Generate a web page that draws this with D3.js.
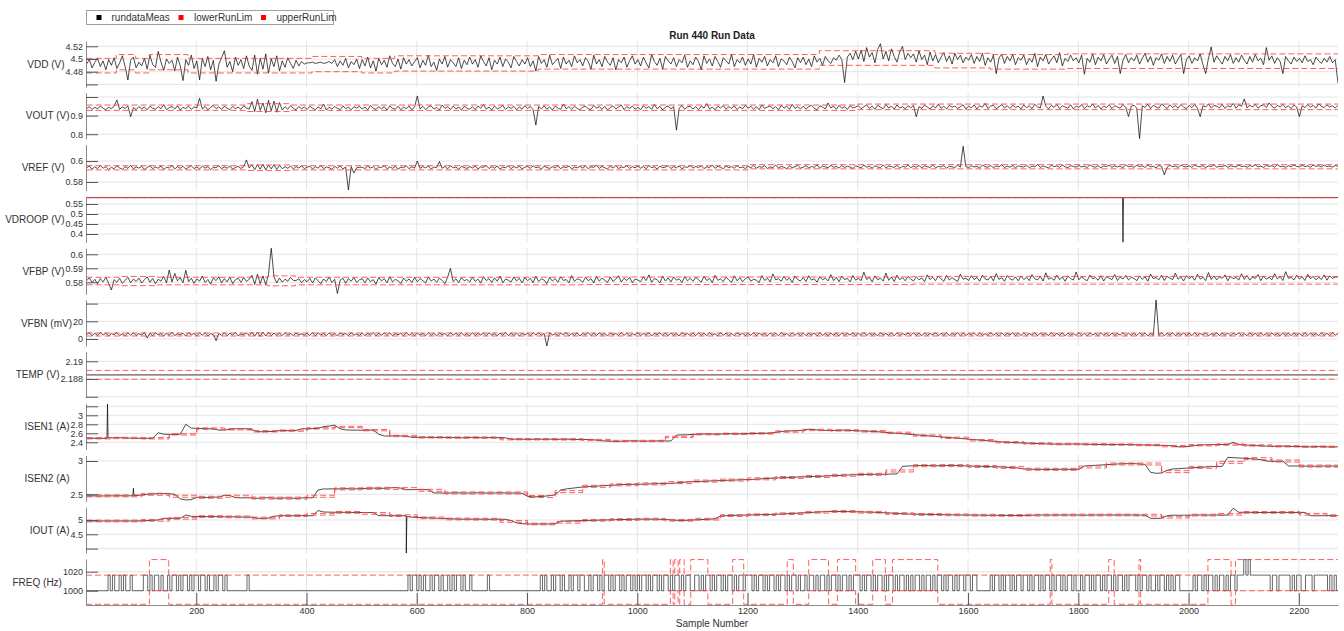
<!DOCTYPE html>
<html>
<head>
<meta charset="utf-8">
<script src="https://cdn.jsdelivr.net/npm/d3@7"></script>
<style>
  body { margin: 0; background: #fff; }
  svg { font-family: 'Liberation Sans', Arial, sans-serif; }
</style>
</head>
<body>
<div id="chart"></div>
<script>
const WIDTH = 1344
const HEIGHT = 631
const LEFT = 86
const RIGHT = 1338
const TOP = 41
const PITCH = 51.8
const PANEL_H = 46
const X_MAX = 2271
const GRID = '#e4e4e4'
const RED = '#ff3636'

const xTicks = [200, 400, 600, 800, 1000, 1200, 1400, 1600, 1800, 2000, 2200]
const noisySamples = d3.range(1, 2272, 5)   // noisy channels, every 5th sample
const smoothSamples = d3.range(1, 2272, 10) // current channels, every 10th sample
const limSamples = d3.range(1, 2272, 50)
const freqSamples = d3.range(0, 2271, 4)

// ---- VDD (V)
const vddMeas = [
  4.492,4.499,4.486,4.495,4.501,4.488,4.497,4.483,4.499,4.490,
  4.502,4.485,4.494,4.505,4.488,4.467,4.498,4.503,4.486,4.495,
  4.489,4.501,4.484,4.506,4.491,4.487,4.512,4.495,4.482,4.500,
  4.493,4.498,4.481,4.503,4.489,4.466,4.499,4.490,4.506,4.485,
  4.497,4.467,4.501,4.488,4.504,4.483,4.498,4.465,4.492,4.502,
  4.513,4.487,4.496,4.480,4.503,4.490,4.499,4.485,4.505,4.489,
  4.482,4.506,4.476,4.501,4.484,4.508,4.478,4.500,4.488,4.505,
  4.481,4.497,4.487,4.502,4.493,4.485,4.498,4.489,4.496,4.492,
  4.494,4.494,4.495,4.493,4.494,4.495,4.493,4.494,4.496,4.493,
  4.499,4.488,4.497,4.490,4.501,4.486,4.496,4.491,4.500,4.485,
  4.499,4.489,4.503,4.486,4.497,4.481,4.501,4.491,4.498,4.487,
  4.505,4.493,4.488,4.500,4.484,4.502,4.492,4.499,4.489,4.496,
  4.502,4.486,4.498,4.490,4.506,4.488,4.495,4.482,4.500,4.492,
  4.504,4.487,4.499,4.494,4.488,4.502,4.485,4.498,4.491,4.503,
  4.492,4.499,4.487,4.505,4.496,4.489,4.502,4.483,4.498,4.492,
  4.503,4.488,4.500,4.495,4.486,4.504,4.496,4.489,4.499,4.492,
  4.502,4.488,4.497,4.481,4.504,4.493,4.499,4.487,4.506,4.491,
  4.496,4.501,4.485,4.503,4.492,4.498,4.488,4.505,4.494,4.499,
  4.489,4.502,4.496,4.484,4.506,4.492,4.499,4.488,4.504,4.495,
  4.490,4.502,4.483,4.499,4.494,4.503,4.487,4.497,4.505,4.492,
  4.499,4.489,4.503,4.494,4.486,4.507,4.496,4.490,4.501,4.484,
  4.504,4.497,4.492,4.502,4.488,4.499,4.494,4.506,4.487,4.497,
  4.491,4.503,4.496,4.483,4.505,4.493,4.500,4.489,4.504,4.496,
  4.487,4.502,4.497,4.492,4.507,4.488,4.499,4.494,4.503,4.490,
  4.500,4.492,4.507,4.487,4.501,4.495,4.504,4.489,4.499,4.494,
  4.505,4.488,4.500,4.497,4.491,4.503,4.496,4.486,4.502,4.494,
  4.503,4.491,4.500,4.488,4.505,4.495,4.501,4.490,4.504,4.497,
  4.493,4.502,4.498,4.506,4.499,4.463,4.503,4.509,4.499,4.512,
  4.500,4.514,4.496,4.518,4.503,4.510,4.494,4.515,4.524,4.500,
  4.512,4.497,4.516,4.504,4.495,4.511,4.520,4.499,4.509,4.502,
  4.508,4.495,4.513,4.499,4.506,4.491,4.511,4.497,4.507,4.494,
  4.503,4.510,4.496,4.505,4.492,4.509,4.499,4.506,4.494,4.503,
  4.498,4.507,4.493,4.504,4.496,4.509,4.490,4.502,4.495,4.506,
  4.477,4.501,4.508,4.493,4.504,4.497,4.507,4.491,4.502,4.498,
  4.506,4.491,4.501,4.495,4.509,4.488,4.503,4.497,4.507,4.492,
  4.499,4.505,4.494,4.510,4.489,4.501,4.496,4.506,4.497,4.502,
  4.494,4.506,4.476,4.501,4.495,4.508,4.491,4.503,4.497,4.507,
  4.492,4.500,4.506,4.493,4.504,4.477,4.498,4.507,4.494,4.502,
  4.497,4.506,4.492,4.501,4.509,4.495,4.504,4.490,4.502,4.498,
  4.508,4.493,4.504,4.496,4.506,4.492,4.500,4.507,4.477,4.499,
  4.505,4.493,4.502,4.497,4.508,4.491,4.477,4.501,4.519,4.495,
  4.505,4.498,4.492,4.504,4.497,4.507,4.493,4.502,4.495,4.506,
  4.498,4.492,4.504,4.495,4.507,4.497,4.501,4.491,4.518,4.498,
  4.505,4.493,4.502,4.496,4.477,4.504,4.497,4.492,4.503,4.496,
  4.501,4.494,4.505,4.496,4.499,4.491,4.503,4.497,4.493,4.501,
  4.495,4.504,4.494,4.499,4.462
]
const vddLimX = [1, 55, 90, 115, 185, 410, 500, 560, 820, 1330, 1540, 1640, 1780]
const vddLo = [4.478, 4.483, 4.478, 4.483, 4.478, 4.480, 4.478, 4.481, 4.484, 4.490, 4.486, 4.484, 4.485]
const vddHi = [4.501, 4.507, 4.501, 4.507, 4.501, 4.504, 4.501, 4.505, 4.507, 4.513, 4.509, 4.507, 4.508]

// ---- VOUT (V)
const voutMeas = [
  0.938,0.948,0.933,0.945,0.936,0.951,0.940,0.931,0.946,0.937,
  0.950,0.984,0.934,0.947,0.938,0.952,0.894,0.943,0.932,0.949,
  0.936,0.946,0.931,0.950,0.940,0.934,0.948,0.937,0.958,0.932,
  0.943,0.949,0.935,0.953,0.930,0.945,0.938,0.951,0.934,0.947,
  0.941,0.993,0.935,0.949,0.931,0.944,0.954,0.937,0.948,0.933,
  0.951,0.940,0.932,0.949,0.937,0.946,0.934,0.953,0.941,0.935,
  0.975,0.922,0.988,0.928,0.968,0.915,0.982,0.926,0.978,0.918,
  0.970,0.930,0.948,0.934,0.953,0.940,0.931,0.949,0.937,0.946,
  0.933,0.950,0.940,0.931,0.947,0.936,0.962,0.930,0.945,0.935,
  0.949,0.939,0.932,0.953,0.937,0.946,0.931,0.948,0.940,0.951,
  0.935,0.946,0.931,0.954,0.940,0.933,0.949,0.936,0.948,0.929,
  0.952,0.939,0.934,0.950,0.932,0.946,0.937,0.951,0.931,0.947,
  1.005,0.936,0.950,0.933,0.946,0.953,0.935,0.944,0.930,0.957,
  0.939,0.948,0.933,0.951,0.936,0.946,0.929,0.950,0.940,0.934,
  0.948,0.932,0.952,0.939,0.960,0.935,0.946,0.931,0.951,0.937,
  0.943,0.955,0.933,0.948,0.938,0.950,0.931,0.947,0.935,0.953,
  0.939,0.949,0.932,0.849,0.950,0.936,0.953,0.934,0.947,0.930,
  0.951,0.940,0.933,0.962,0.937,0.948,0.934,0.950,0.939,0.931,
  0.946,0.951,0.936,0.933,0.955,0.940,0.948,0.934,0.950,0.930,
  0.943,0.953,0.936,0.946,0.957,0.932,0.948,0.939,0.951,0.935,
  0.944,0.932,0.953,0.939,0.948,0.934,0.960,0.937,0.950,0.930,
  0.945,0.952,0.936,0.948,0.822,0.940,0.954,0.934,0.947,0.950,
  0.936,0.948,0.932,0.951,0.940,0.965,0.935,0.946,0.931,0.950,
  0.941,0.954,0.934,0.948,0.939,0.952,0.933,0.947,0.937,0.955,
  0.940,0.950,0.934,0.948,0.932,0.957,0.939,0.946,0.952,0.936,
  0.949,0.931,0.955,0.940,0.951,0.934,0.960,0.939,0.948,0.936,
  0.951,0.935,0.948,0.956,0.939,0.932,0.952,0.946,0.936,0.968,
  0.941,0.951,0.934,0.955,0.939,0.948,0.933,0.953,0.941,0.946,
  0.953,0.937,0.948,0.958,0.939,0.951,0.934,0.955,0.946,0.937,
  0.960,0.941,0.951,0.935,0.957,0.940,0.948,0.937,0.953,0.942,
  0.955,0.894,0.948,0.939,0.957,0.946,0.935,0.953,0.941,0.962,
  0.939,0.951,0.936,0.955,0.945,0.952,0.938,0.948,0.958,0.936,
  0.951,0.942,0.957,0.936,0.953,0.945,0.966,0.938,0.951,0.955,
  0.937,0.948,0.959,0.941,0.953,0.938,0.956,0.944,0.951,0.936,
  0.957,0.943,0.952,0.938,0.961,0.947,0.941,1.005,0.951,0.937,
  0.955,0.944,0.960,0.938,0.953,0.946,0.940,0.958,0.936,0.951,
  0.944,0.959,0.938,0.953,0.946,0.963,0.940,0.955,0.936,0.951,
  0.944,0.958,0.938,0.953,0.946,0.940,0.960,0.944,0.895,0.951,
  0.955,0.940,0.775,0.953,0.944,0.961,0.938,0.955,0.946,0.940,
  0.964,0.950,0.938,0.958,0.944,0.953,0.940,0.960,0.946,0.937,
  0.955,0.943,0.960,0.940,0.894,0.953,0.946,0.963,0.940,0.955,
  0.950,0.942,0.961,0.938,0.953,0.946,0.966,0.940,0.958,0.950,
  0.990,0.942,0.955,0.946,0.961,0.940,0.953,0.958,0.943,0.968,
  0.950,0.940,0.955,0.946,0.960,0.942,0.953,0.938,0.958,0.946,
  0.894,0.953,0.943,0.960,0.946,0.955,0.940,0.963,0.950,0.943,
  0.958,0.946,0.953,0.940,0.956
]
const voutLimX = [1, 290, 370, 1400]
const voutLo = [0.928, 0.922, 0.928, 0.932]
const voutHi = [0.957, 0.964, 0.957, 0.962]

// ---- VREF (V)
const vrefMeas = [
  .5935,.5951,.5922,.5944,.5928,.5956,.5931,.5947,.5918,.5940,
  .5926,.5953,.5934,.5921,.5946,.5930,.5958,.5925,.5943,.5932,
  .5949,.5920,.5938,.5955,.5927,.5944,.5931,.5952,.5919,.5941,
  .5933,.5957,.5924,.5946,.5930,.5950,.5922,.5939,.5954,.5928,
  .5943,.5925,.5950,.5932,.5947,.5918,.5941,.5936,.5955,.5926,
  .5944,.5931,.5952,.5923,.5939,.5948,.5929,.5945,.6010,.5934,
  .5962,.5918,.5965,.5922,.5968,.5915,.5960,.5925,.5966,.5920,
  .5958,.5927,.5945,.5930,.5952,.5924,.5947,.5933,.5955,.5926,
  .5941,.5950,.5923,.5946,.5932,.5957,.5927,.5944,.5936,.5920,
  .5949,.5931,.5953,.5925,.5942,.5724,.5947,.5886,.5936,.5940,
  .5940,.5928,.5951,.5933,.5946,.5921,.5943,.5937,.5955,.5926,
  .5944,.5930,.5949,.5922,.5941,.5935,.5953,.5927,.5945,.5932,
  .6000,.5929,.5947,.5934,.5952,.5924,.5942,.5937,.5995,.5931,
  .5948,.5926,.5954,.5935,.5943,.5921,.5950,.5938,.5929,.5946,
  .5933,.5951,.5925,.5944,.5939,.5958,.5928,.5946,.5931,.5953,
  .5923,.5942,.5936,.5955,.5927,.5947,.5934,.5950,.5924,.5941,
  .5948,.5930,.5954,.5936,.5943,.5922,.5951,.5938,.5929,.5946,
  .5933,.5957,.5926,.5944,.5937,.5952,.5925,.5942,.5935,.5949,
  .5931,.5953,.5927,.5945,.5939,.5960,.5929,.5948,.5936,.5924,
  .5950,.5933,.5955,.5928,.5943,.5938,.5956,.5930,.5946,.5935,
  .5952,.5931,.5947,.5926,.5958,.5937,.5944,.5923,.5950,.5936,
  .5942,.5955,.5929,.5947,.5934,.5953,.5925,.5945,.5939,.5957,
  .5932,.5948,.5938,.5954,.5927,.5945,.5936,.5961,.5930,.5949,
  .5940,.5926,.5952,.5937,.5946,.5931,.5956,.5935,.5943,.5928,
  .5950,.5936,.5959,.5931,.5947,.5939,.5955,.5928,.5944,.5937,
  .5962,.5933,.5948,.5940,.5927,.5953,.5936,.5945,.5958,.5932,
  .5941,.5955,.5934,.5948,.5939,.5963,.5930,.5951,.5944,.5936,
  .5958,.5940,.5947,.5933,.5956,.5938,.5950,.5942,.5929,.5954,
  .5945,.5936,.5960,.5941,.5949,.5932,.5955,.5943,.5938,.5963,
  .5935,.5951,.5946,.5939,.5957,.5933,.5948,.5942,.5961,.5937,
  .5950,.5940,.5958,.5934,.5953,.5945,.5939,.5962,.5936,.5948,
  .5943,.5956,.5931,.5951,.5944,.5938,.5960,.5942,.6140,.5946,
  .5937,.5955,.5943,.5949,.5933,.5961,.5945,.5940,.5957,.5936,
  .5952,.5944,.5964,.5938,.5950,.5941,.5956,.5935,.5953,.5946,
  .5942,.5959,.5937,.5951,.5945,.5966,.5939,.5953,.5943,.5935,
  .5958,.5947,.5952,.5940,.5961,.5944,.5937,.5955,.5948,.5941,
  .5957,.5943,.5950,.5938,.5963,.5946,.5941,.5955,.5936,.5952,
  .5947,.5960,.5939,.5954,.5944,.5950,.5937,.5962,.5945,.5951,
  .5940,.5958,.5946,.5953,.5938,.5961,.5944,.5950,.5935,.5956,
  .5948,.5867,.5941,.5959,.5945,.5952,.5938,.5963,.5947,.5943,
  .5955,.5939,.5962,.5948,.5944,.5957,.5936,.5953,.5946,.5965,
  .5941,.5950,.5945,.5958,.5939,.5954,.5948,.5943,.5961,.5946,
  .5952,.5940,.5957,.5947,.5963,.5943,.5951,.5938,.5959,.5948,
  .5955,.5942,.5966,.5946,.5950,.5940,.5956,.5945,.5961,.5949,
  .5944,.5958,.5947,.5953,.5940,.5962,.5949,.5955,.5943,.5960,
  .5946,.5952,.5941,.5957,.5948
]
const vrefLimX = [1, 290, 370, 1200]
const vrefLo = [0.5915, 0.5910, 0.5915, 0.5925]
const vrefHi = [0.5955, 0.5962, 0.5955, 0.5965]

// ---- VDROOP (V)
const vdroopSamples = [1, 600, 1200, 1880, 1881, 1882, 2271]
const vdroopMeas = [0.5821, 0.5820, 0.5821, 0.5821, 0.3580, 0.5821, 0.5821]
const vdroopLimX = [1]
const vdroopLo = [0.5812]
const vdroopHi = [0.5830]

// ---- VFBP (V)
const vfbpMeas = [
  .5811,.5832,.5798,.5821,.5790,.5826,.5803,.5835,.5794,.5745,
  .5819,.5800,.5828,.5792,.5815,.5836,.5797,.5823,.5806,.5830,
  .5795,.5818,.5839,.5801,.5827,.5789,.5822,.5808,.5842,.5796,
  .5888,.5803,.5864,.5810,.5833,.5797,.5886,.5805,.5829,.5793,
  .5824,.5808,.5845,.5799,.5820,.5787,.5831,.5812,.5840,.5795,
  .5826,.5803,.5837,.5791,.5818,.5829,.5800,.5834,.5806,.5822,
  .5850,.5785,.5858,.5790,.5846,.5782,.5855,.6045,.5838,.5795,
  .5830,.5801,.5822,.5808,.5835,.5814,.5812,.5826,.5797,.5819,
  .5803,.5828,.5795,.5832,.5810,.5790,.5824,.5806,.5837,.5798,
  .5821,.5720,.5814,.5829,.5793,.5826,.5808,.5833,.5799,.5818,
  .5825,.5796,.5831,.5805,.5819,.5788,.5834,.5810,.5826,.5797,
  .5839,.5803,.5822,.5811,.5791,.5830,.5807,.5824,.5799,.5835,
  .5804,.5827,.5812,.5795,.5838,.5809,.5823,.5800,.5829,.5814,
  .5791,.5836,.5900,.5806,.5825,.5798,.5832,.5811,.5820,.5802,
  .5836,.5807,.5822,.5794,.5840,.5812,.5826,.5799,.5831,.5808,
  .5845,.5797,.5823,.5815,.5802,.5838,.5810,.5828,.5796,.5833,
  .5812,.5829,.5798,.5843,.5805,.5824,.5816,.5791,.5835,.5809,
  .5827,.5801,.5840,.5813,.5820,.5796,.5848,.5807,.5825,.5818,
  .5800,.5836,.5811,.5826,.5795,.5842,.5808,.5830,.5815,.5799,
  .5838,.5806,.5823,.5847,.5802,.5829,.5813,.5835,.5797,.5824,
  .5816,.5805,.5839,.5812,.5853,.5800,.5827,.5818,.5796,.5844,
  .5809,.5831,.5803,.5838,.5815,.5825,.5798,.5841,.5810,.5829,
  .5807,.5835,.5819,.5801,.5843,.5812,.5828,.5797,.5850,.5814,
  .5824,.5805,.5837,.5816,.5800,.5846,.5811,.5832,.5804,.5826,
  .5839,.5808,.5822,.5815,.5798,.5848,.5813,.5829,.5803,.5860,
  .5817,.5826,.5808,.5842,.5814,.5831,.5799,.5845,.5819,.5810,
  .5833,.5806,.5847,.5816,.5825,.5801,.5840,.5818,.5829,.5810,
  .5855,.5812,.5836,.5805,.5844,.5820,.5827,.5803,.5849,.5815,
  .5828,.5812,.5872,.5820,.5835,.5804,.5846,.5817,.5830,.5809,
  .5866,.5814,.5838,.5806,.5851,.5819,.5833,.5811,.5842,.5823,
  .5810,.5840,.5818,.5831,.5805,.5853,.5820,.5836,.5812,.5845,
  .5824,.5808,.5849,.5816,.5834,.5819,.5806,.5858,.5822,.5829,
  .5813,.5847,.5819,.5835,.5808,.5851,.5824,.5816,.5842,.5810,
  .5862,.5821,.5833,.5807,.5848,.5826,.5815,.5839,.5811,.5844,
  .5820,.5836,.5812,.5855,.5825,.5817,.5843,.5809,.5868,.5822,
  .5834,.5814,.5850,.5819,.5838,.5808,.5845,.5827,.5816,.5874,
  .5818,.5840,.5823,.5811,.5852,.5826,.5833,.5815,.5847,.5809,
  .5841,.5829,.5820,.5856,.5813,.5837,.5824,.5849,.5817,.5835,
  .5828,.5812,.5846,.5821,.5839,.5808,.5859,.5825,.5834,.5817,
  .5851,.5813,.5843,.5830,.5819,.5866,.5822,.5838,.5810,.5848,
  .5826,.5841,.5815,.5857,.5823,.5836,.5812,.5870,.5820,.5845,
  .5817,.5839,.5828,.5853,.5811,.5842,.5826,.5834,.5816,.5861,
  .5821,.5848,.5815,.5838,.5827,.5855,.5812,.5844,.5822,.5836,
  .5818,.5862,.5825,.5840,.5813,.5876,.5829,.5834,.5817,.5850,
  .5824,.5839,.5813,.5857,.5826,.5842,.5818,.5835,.5821,.5853,
  .5815,.5846,.5828,.5837,.5838
]
const vfbpLimX = [1, 60, 130, 330, 380, 900, 1500]
const vfbpLo = [0.5782, 0.5776, 0.5782, 0.5775, 0.5782, 0.5784, 0.5787]
const vfbpHi = [0.5836, 0.5842, 0.5836, 0.5846, 0.5836, 0.5838, 0.5842]

// ---- VFBN (mV)
const vfbnMeas = [
  5.2,7.1,3.8,6.4,4.1,7.5,4.6,6.8,3.5,6.2, 4.9,7.3,4.0,5.8,3.7,6.9,4.4,7.0,3.9,6.1,
  4.5,7.4,1.1,6.6,3.6,7.2,4.8,6.0,3.4,6.7, 4.2,7.6,3.9,5.9,4.6,6.5,3.3,7.1,4.7,6.3,
  3.8,6.9,4.3,7.3,3.5,6.1,4.9,-1.9,6.4,4.0, 7.0,3.7,6.6,4.5,7.2,3.6,5.8,4.8,6.9,4.1,
  7.6,3.2,7.9,3.0,7.7,3.4,7.3,3.6,6.8,4.2, 6.5,3.8,7.1,4.4,6.2,3.9,6.7,4.6,5.9,4.3,
  6.6,4.0,7.2,3.7,6.9,4.5,6.3,3.9,7.0,4.2, 6.1,3.6,6.8,4.7,6.4,3.8,7.1,4.4,5.9,4.1,
  6.7,3.9,6.2,4.6,7.3,3.5,6.5,4.3,6.9,4.0, 7.1,3.7,6.0,4.8,6.6,3.6,7.2,4.2,6.3,3.9,
  6.8,4.5,6.1,3.8,7.0,4.1,6.4,3.7,6.7,4.9, 6.2,3.5,7.1,4.4,6.5,3.9,6.9,4.2,6.0,3.6,
  7.2,4.0,6.3,4.6,6.8,3.8,7.0,4.3,6.1,3.7, 6.6,4.5,7.3,3.9,6.4,4.1,6.9,3.5,6.2,4.7,
  6.5,3.8,7.1,4.6,6.8,4.2,6.3,-7.9,7.0,4.4, 6.0,3.9,6.7,4.8,7.2,3.7,6.4,4.1,6.9,3.5,
  6.2,4.6,7.3,3.8,6.5,4.0,7.0,4.3,6.1,3.6, 6.8,4.7,6.3,3.9,7.1,4.2,6.6,3.7,6.0,4.5,
  7.2,3.9,6.4,4.4,6.9,3.6,6.2,4.8,7.0,4.1, 6.5,3.8,6.8,4.3,6.1,3.5,7.3,4.6,6.3,4.0,
  6.7,3.7,7.1,4.2,6.4,3.9,6.9,4.5,6.0,3.6, 7.2,4.3,6.6,4.0,6.2,3.8,7.0,4.7,6.5,3.9,
  6.3,4.1,7.3,3.8,6.7,4.4,6.1,3.6,6.9,4.2, 6.4,3.9,7.1,4.6,6.0,3.7,6.8,4.3,6.5,4.0,
  7.0,3.8,6.3,4.5,6.8,3.6,7.2,4.1,6.1,3.9, 6.7,4.4,6.4,3.7,7.1,4.2,6.2,4.6,6.9,3.8,
  6.5,4.0,7.3,3.9,6.6,4.3,6.0,3.7,7.0,4.5, 6.3,4.1,6.8,3.6,7.2,4.2,6.1,4.7,6.7,3.9,
  7.1,4.2,6.4,3.8,6.9,4.0,6.2,4.6,7.0,3.7, 6.5,4.3,6.8,3.9,6.1,4.4,7.3,3.6,6.6,4.1,
  6.3,4.5,7.0,3.8,6.7,4.2,6.0,3.9,7.2,4.4, 6.4,3.7,6.9,4.1,6.2,4.6,7.1,3.8,6.5,4.0,
  6.8,3.9,6.3,4.3,7.0,3.7,6.6,4.5,6.1,4.0, 7.2,3.8,6.4,4.2,6.9,3.6,6.7,4.4,6.0,4.1,
  7.1,4.0,6.5,3.8,6.8,4.6,6.2,3.9,7.0,4.3, 6.4,3.7,6.9,4.1,6.1,4.5,7.2,3.8,6.6,4.2,
  6.3,3.9,7.0,4.4,6.7,3.6,6.1,4.2,44.0,4.0, 6.8,3.8,6.4,4.5,7.1,3.7,6.2,4.3,6.9,4.0,
  6.6,3.8,7.2,4.1,6.3,4.5,6.9,3.7,6.0,4.3, 7.0,3.9,6.5,4.2,6.8,3.6,6.4,4.6,7.1,4.0,
  6.2,3.8,6.9,4.4,6.6,3.7,7.2,4.1,6.3,3.9, 6.8,4.5,6.1,3.6,7.0,4.2,6.5,3.9,6.7,4.3,
  6.4,3.7,7.1,4.0,6.6,4.4,6.2,3.8,6.9,4.1, 6.5,3.9,7.0,4.3,6.3
]
const vfbnLimX = [1]
const vfbnLo = [3.4]
const vfbnHi = [6.8]

// ---- TEMP (V)
const tempSamples = [1, 2271]
const tempMeas = [2.18847, 2.18847]
const tempLimX = [1]
const tempLo = [2.18797]
const tempHi = [2.18897]

// ---- ISEN1 (A)
const isen1Meas = [
  2.489,2.489,2.490,2.489,2.500,2.500,2.502,2.498,2.492,2.490,
  2.488,2.489,2.491,2.610,2.580,2.576,2.575,2.578,2.800,2.715,
  2.710,2.705,2.700,2.700,2.670,2.672,2.690,2.700,2.702,2.700,
  2.680,2.636,2.635,2.640,2.640,2.660,2.660,2.655,2.665,2.700,
  2.700,2.705,2.710,2.750,2.760,2.780,2.700,2.675,2.670,2.670,
  2.668,2.670,2.672,2.580,2.540,2.540,2.545,2.540,2.535,2.510,
  2.510,2.512,2.510,2.508,2.510,2.510,2.505,2.505,2.500,2.505,
  2.510,2.505,2.500,2.505,2.500,2.505,2.500,2.470,2.468,2.470,
  2.465,2.468,2.470,2.466,2.470,2.465,2.468,2.470,2.466,2.462,
  2.465,2.460,2.455,2.440,2.430,2.425,2.420,2.425,2.430,2.432,
  2.430,2.425,2.428,2.430,2.432,2.430,2.430,2.560,2.565,2.570,
  2.575,2.580,2.585,2.585,2.580,2.585,2.590,2.590,2.588,2.590,
  2.592,2.595,2.600,2.600,2.605,2.620,2.640,2.650,2.655,2.660,
  2.670,2.690,2.680,2.670,2.665,2.660,2.665,2.670,2.668,2.660,
  2.655,2.650,2.645,2.640,2.630,2.620,2.610,2.600,2.590,2.580,
  2.570,2.560,2.550,2.540,2.530,2.520,2.510,2.500,2.490,2.480,
  2.470,2.460,2.450,2.440,2.430,2.420,2.410,2.400,2.395,2.390,
  2.385,2.380,2.375,2.370,2.365,2.362,2.360,2.358,2.360,2.362,
  2.360,2.358,2.355,2.352,2.350,2.348,2.350,2.352,2.350,2.348,
  2.345,2.342,2.340,2.338,2.335,2.332,2.330,2.320,2.300,2.300,
  2.310,2.330,2.340,2.345,2.348,2.350,2.352,2.350,2.400,2.350,
  2.340,2.335,2.330,2.320,2.315,2.310,2.312,2.315,2.310,2.308,
  2.305,2.302,2.300,2.302,2.305,2.300,2.298,2.300
]
const isen1SpikeX = [38, 39, 40]
const isen1SpikeY = [2.489, 3.25, 2.50]
const isen1Lo = [2.475,2.482,2.475,2.562,2.690,2.675,2.630,2.645,2.695,2.725,2.655,2.525,2.495,2.490,2.490,2.455,2.453,2.451,2.435,2.413,2.415,2.505,2.565,2.573,2.583,2.625,2.660,2.650,2.630,2.595,2.535,2.485,2.430,2.385,2.360,2.345,2.340,2.334,2.324,2.300,2.320,2.335,2.315,2.297,2.288,2.285]
const isen1Hi = [2.505,2.512,2.505,2.592,2.720,2.705,2.660,2.675,2.725,2.755,2.685,2.555,2.525,2.520,2.520,2.485,2.483,2.481,2.465,2.443,2.445,2.535,2.595,2.603,2.613,2.655,2.690,2.680,2.660,2.625,2.565,2.515,2.460,2.415,2.390,2.375,2.370,2.364,2.354,2.330,2.350,2.365,2.345,2.327,2.318,2.315]

// ---- ISEN2 (A)
const isen2Meas = [
  2.475,2.476,2.474,2.475,2.477,2.476,2.478,2.476,2.477,2.480,
  2.490,2.500,2.505,2.510,2.510,2.508,2.500,2.430,2.415,2.420,
  2.455,2.455,2.452,2.458,2.455,2.485,2.480,2.450,2.445,2.448,
  2.445,2.440,2.445,2.448,2.442,2.440,2.445,2.443,2.440,2.445,
  2.448,2.445,2.565,2.580,2.580,2.582,2.580,2.585,2.580,2.582,
  2.585,2.590,2.592,2.590,2.590,2.595,2.600,2.592,2.570,2.570,
  2.572,2.568,2.570,2.520,2.520,2.518,2.520,2.522,2.520,2.518,
  2.520,2.522,2.520,2.518,2.520,2.522,2.520,2.518,2.520,2.515,
  2.470,2.460,2.465,2.470,2.480,2.490,2.565,2.580,2.590,2.600,
  2.610,2.615,2.620,2.625,2.630,2.635,2.640,2.645,2.648,2.650,
  2.650,2.652,2.655,2.658,2.660,2.662,2.665,2.670,2.680,2.685,
  2.690,2.692,2.695,2.700,2.702,2.705,2.710,2.712,2.715,2.718,
  2.720,2.725,2.730,2.735,2.740,2.745,2.748,2.750,2.755,2.760,
  2.762,2.765,2.768,2.770,2.775,2.778,2.780,2.785,2.790,2.792,
  2.795,2.798,2.800,2.800,2.802,2.800,2.805,2.805,2.920,2.925,
  2.928,2.930,2.932,2.930,2.928,2.930,2.932,2.935,2.930,2.928,
  2.925,2.922,2.920,2.918,2.915,2.912,2.910,2.905,2.900,2.895,
  2.880,2.878,2.875,2.875,2.872,2.875,2.874,2.876,2.875,2.874,
  2.875,2.925,2.930,2.935,2.940,2.945,2.950,2.955,2.958,2.960,
  2.960,2.955,2.950,2.830,2.815,2.820,2.860,2.880,2.885,2.890,
  2.895,2.900,2.905,2.910,2.915,2.918,2.920,3.055,3.050,3.045,
  3.040,3.035,3.030,3.020,3.000,2.995,2.995,2.998,2.925,2.925,
  2.925,2.922,2.925,2.920,2.925,2.922,2.925,2.920
]
const isen2SpikeX = [85, 86, 87]
const isen2SpikeY = [2.477, 2.59, 2.478]
const isen2Lo = [2.461,2.462,2.485,2.455,2.440,2.455,2.428,2.427,2.455,2.566,2.575,2.570,2.545,2.505,2.505,2.505,2.452,2.525,2.605,2.627,2.641,2.660,2.683,2.698,2.717,2.737,2.753,2.770,2.785,2.835,2.914,2.915,2.903,2.890,2.861,2.860,2.895,2.940,2.940,2.825,2.890,2.965,3.020,2.985,2.909,2.908]
const isen2Hi = [2.491,2.492,2.515,2.485,2.470,2.485,2.458,2.457,2.485,2.596,2.605,2.600,2.575,2.535,2.535,2.535,2.482,2.555,2.635,2.657,2.671,2.690,2.713,2.728,2.747,2.767,2.783,2.800,2.815,2.865,2.944,2.945,2.933,2.920,2.891,2.890,2.925,2.970,2.970,2.855,2.920,2.995,3.050,3.015,2.939,2.938]

// ---- IOUT (A)
const ioutMeas = [
  4.965,4.966,4.965,4.964,4.966,4.965,4.967,4.966,4.965,4.966,
  4.970,4.980,4.990,5.000,5.060,5.060,5.058,5.060,5.175,5.130,
  5.125,5.120,5.118,5.120,5.115,5.110,5.112,5.110,5.105,5.100,
  5.100,5.060,5.060,5.065,5.130,5.150,5.150,5.148,5.150,5.152,
  5.150,5.148,5.330,5.280,5.275,5.270,5.270,5.268,5.265,5.265,
  5.262,5.260,5.262,5.150,5.150,5.148,5.150,5.152,5.150,5.100,
  5.090,5.080,5.075,5.070,5.060,5.050,5.040,5.035,5.030,5.030,
  5.030,5.028,5.030,5.025,5.030,5.028,5.025,4.980,4.900,4.870,
  4.860,4.858,4.860,4.862,4.860,4.870,4.960,4.965,4.970,4.975,
  4.980,4.985,4.990,4.995,5.000,5.005,5.010,5.015,5.020,5.025,
  5.030,5.030,5.028,5.030,5.025,5.020,5.000,4.990,4.985,4.990,
  5.000,5.010,5.020,5.030,5.040,5.140,5.150,5.160,5.165,5.170,
  5.175,5.180,5.185,5.190,5.195,5.200,5.210,5.220,5.230,5.240,
  5.250,5.260,5.270,5.280,5.290,5.300,5.300,5.298,5.295,5.290,
  5.285,5.280,5.275,5.270,5.260,5.250,5.240,5.230,5.220,5.210,
  5.205,5.200,5.198,5.195,5.190,5.188,5.185,5.180,5.178,5.175,
  5.175,5.172,5.170,5.168,5.165,5.165,5.162,5.160,5.160,5.158,
  5.160,5.165,5.170,5.175,5.175,5.172,5.175,5.173,5.175,5.174,
  5.175,5.170,5.172,5.175,5.174,5.176,5.175,5.174,5.175,5.176,
  5.175,5.172,5.170,5.060,5.058,5.065,5.150,5.170,5.165,5.168,
  5.170,5.172,5.175,5.170,5.172,5.175,5.170,5.173,5.410,5.270,
  5.270,5.268,5.265,5.262,5.265,5.262,5.265,5.268,5.265,5.262,
  5.268,5.265,5.150,5.148,5.150,5.152,5.150,5.150
]
const ioutSpikeX = [580, 581, 582]
const ioutSpikeY = [5.150, 3.84, 5.120]
const ioutLo = [4.935,4.936,4.960,5.030,5.090,5.080,5.040,5.120,5.170,5.238,5.200,5.120,5.045,5.005,4.998,4.920,4.830,4.890,4.960,4.985,4.999,4.960,5.000,5.125,5.155,5.190,5.240,5.268,5.240,5.195,5.165,5.150,5.138,5.131,5.140,5.144,5.144,5.145,5.140,5.070,5.142,5.170,5.236,5.235,5.170,5.120]
const ioutHi = [4.995,4.996,5.020,5.090,5.150,5.140,5.100,5.180,5.230,5.298,5.260,5.180,5.105,5.065,5.058,4.980,4.890,4.950,5.020,5.045,5.059,5.020,5.060,5.185,5.215,5.250,5.300,5.328,5.300,5.255,5.225,5.210,5.198,5.191,5.200,5.204,5.204,5.205,5.200,5.130,5.202,5.230,5.296,5.295,5.230,5.180]

// ---- FREQ (Hz): level codes 0/1/2, one code per 4 samples, one string per 100 samples
const freqLevels = [1000, 1016.4, 1032.8]
const freqCodes = [
  '0000000000101001010010000', '0110101101001011010110101', '1011010010110100000000010', '0000000000000000000000000',
  '0000000000000000000000000', '0000000000000000000001011', '0101001011010010101101001', '0000000100000000000000000',
  '0000001010010110100101101', '1001011010110101101011010', '1011010110101101011010110', '0110101101011010110101101',
  '1101011010110101101011010', '0101101011010110101101011', '1010110101101011010110101', '0110101101011010110101101',
  '1011000000101101011010110', '1101011010110101101011010', '0101101011010110101101011', '1010110100101101010110000',
  '0010110101101011010110111', '2121111111110110111110101', '100111011111101010'
]
const freqLimX = [0, 115, 150, 937, 940, 1060, 1065, 1068, 1074, 1077, 1085, 1097, 1128, 1173, 1193, 1272, 1283,
  1311, 1347, 1363, 1396, 1427, 1450, 1463, 1545, 1749, 1752, 1855, 1865, 1910, 1913, 2035, 2077, 2085]
const freqLo = [985.7, 1000, 985.7, 1000, 985.7, 1000, 985.7, 1000, 985.7, 1000, 985.7, 1000, 985.7, 1000, 985.7, 1000, 985.7,
  1000, 985.7, 1000, 985.7, 1000, 985.7, 1000, 985.7, 1000, 985.7, 1000, 985.7, 1000, 985.7, 1000, 985.7, 1000]
const freqHi = [1016.4, 1032.8, 1016.4, 1032.8, 1016.4, 1032.8, 1016.4, 1032.8, 1016.4, 1032.8, 1016.4, 1032.8, 1016.4, 1032.8, 1016.4, 1032.8, 1016.4,
  1032.8, 1016.4, 1032.8, 1016.4, 1032.8, 1016.4, 1032.8, 1016.4, 1032.8, 1016.4, 1032.8, 1016.4, 1032.8, 1016.4, 1032.8, 1016.4, 1032.8]
const freqMeas = freqCodes.join('').split('').map(c => freqLevels[+c])

const panels = [
  { label: 'VDD (V)', domain: [4.4559, 4.5283], ticks: [4.46, 4.48, 4.5, 4.52], shown: [4.48, 4.5, 4.52],
    xs: noisySamples, meas: vddMeas, limX: vddLimX, lo: vddLo, hi: vddHi },
  { label: 'VOUT (V)', domain: [0.7753, 1.0226], ticks: [0.8, 0.9, 1.0], shown: [0.8, 0.9],
    xs: noisySamples, meas: voutMeas, limX: voutLimX, lo: voutLo, hi: voutHi },
  { label: 'VREF (V)', domain: [0.5718, 0.6156], ticks: [0.58, 0.6], shown: [0.58, 0.6],
    xs: noisySamples, meas: vrefMeas, limX: vrefLimX, lo: vrefLo, hi: vrefHi },
  { label: 'VDROOP (V)', domain: [0.358, 0.588], ticks: [0.4, 0.45, 0.5, 0.55], shown: [0.4, 0.45, 0.5, 0.55],
    xs: vdroopSamples, meas: vdroopMeas, limX: vdroopLimX, lo: vdroopLo, hi: vdroopHi },
  { label: 'VFBP (V)', domain: [0.5715, 0.60436], ticks: [0.58, 0.59, 0.6], shown: [0.58, 0.59, 0.6],
    xs: noisySamples, meas: vfbpMeas, limX: vfbpLimX, lo: vfbpLo, hi: vfbpHi },
  { label: 'VFBN (mV)', domain: [-7.9, 44.07], ticks: [0, 20, 40], shown: [0, 20],
    xs: noisySamples, meas: vfbnMeas, limX: vfbnLimX, lo: vfbnLo, hi: vfbnHi },
  { label: 'TEMP (V)', domain: [2.18588, 2.19107], ticks: [2.186, 2.188, 2.19], shown: [2.188, 2.19],
    xs: tempSamples, meas: tempMeas, limX: tempLimX, lo: tempLo, hi: tempHi, measColor: '#8c8c8c', measWidth: 1.6 },
  { label: 'ISEN1 (A)', domain: [2.238, 3.26], ticks: [2.4, 2.6, 2.8, 3.0, 3.2], shown: [2.4, 2.6, 2.8, 3.0],
    xs: smoothSamples, meas: isen1Meas, extraX: isen1SpikeX, extraY: isen1SpikeY, limX: limSamples, lo: isen1Lo, hi: isen1Hi },
  { label: 'ISEN2 (A)', domain: [2.393, 3.084], ticks: [2.5, 3.0], shown: [2.5, 3.0],
    xs: smoothSamples, meas: isen2Meas, extraX: isen2SpikeX, extraY: isen2SpikeY, limX: limSamples, lo: isen2Lo, hi: isen2Hi },
  { label: 'IOUT (A)', domain: [3.839, 5.4476], ticks: [4.0, 4.5, 5.0], shown: [4.5, 5.0],
    xs: smoothSamples, meas: ioutMeas, extraX: ioutSpikeX, extraY: ioutSpikeY, limX: limSamples, lo: ioutLo, hi: ioutHi },
  { label: 'FREQ (Hz)', domain: [984.95, 1033.4], ticks: [1000, 1020], shown: [1000, 1020],
    xs: freqSamples, meas: freqMeas, limX: freqLimX, lo: freqLo, hi: freqHi, step: true, measWidth: 0.6 }
]

const svg = d3.select('#chart').append('svg')
  .attr('width', WIDTH)
  .attr('height', HEIGHT)

const x = d3.scaleLinear().domain([0, X_MAX]).range([LEFT, RIGHT])

panels.forEach((p, i) => drawPanel(p, i))
drawXAxis()
drawDecor()

function drawPanel (p, i) {
  const g = svg.append('g')
    .attr('transform', `translate(0,${TOP + i * PITCH})`)
  const y = d3.scaleLinear().domain(p.domain).range([PANEL_H, 0])

  g.append('clipPath').attr('id', 'clip' + i)
    .append('rect')
    .attr('x', LEFT).attr('y', 0)
    .attr('width', RIGHT - LEFT).attr('height', PANEL_H)

  // grid
  g.append('g').selectAll('line')
    .data(xTicks)
    .join('line')
    .attr('x1', d => x(d)).attr('x2', d => x(d))
    .attr('y1', 0).attr('y2', PANEL_H)
    .attr('stroke', GRID)
  g.append('g').selectAll('line')
    .data(p.ticks)
    .join('line')
    .attr('x1', LEFT).attr('x2', RIGHT)
    .attr('y1', d => y(d)).attr('y2', d => y(d))
    .attr('stroke', GRID)

  const plot = g.append('g').attr('clip-path', `url(#clip${i})`)

  const line = d3.line()
    .x(d => x(d[0]))
    .y(d => y(d[1]))
  if (p.step) line.curve(d3.curveStepAfter)

  let measPts = d3.zip(p.xs, p.meas)
  if (p.extraX) {
    measPts = measPts.concat(d3.zip(p.extraX, p.extraY))
      .sort((a, b) => a[0] - b[0])
  }
  if (p.step) measPts.push([X_MAX, p.meas[p.meas.length - 1]])
  plot.append('path')
    .datum(measPts)
    .attr('fill', 'none')
    .attr('stroke', p.measColor || '#000')
    .attr('stroke-width', p.measWidth || 0.7)
    .attr('d', line)

  const stepLine = d3.line()
    .curve(d3.curveStepAfter)
    .x(d => x(d[0]))
    .y(d => y(d[1]))
  ;[p.lo, p.hi].forEach(vals => {
    const pts = d3.zip(p.limX, vals)
    pts.push([X_MAX, vals[vals.length - 1]])
    plot.append('path')
      .datum(pts)
      .attr('fill', 'none')
      .attr('stroke', RED)
      .attr('stroke-opacity', 0.8)
      .attr('stroke-width', 1)
      .attr('stroke-dasharray', '6,3')
      .attr('d', stepLine)
  })

  // y axis, ticks pointing inwards
  const axis = g.append('g')
    .attr('transform', `translate(${LEFT},0)`)
    .call(d3.axisLeft(y)
      .tickValues(p.ticks)
      .tickSizeInner(-12)
      .tickSizeOuter(0)
      .tickPadding(3)
      .tickFormat(d => p.shown.includes(d) ? String(d) : ''))
  axis.select('.domain').attr('stroke', '#8a8a8a')
  axis.selectAll('.tick line').attr('stroke', '#555')
  axis.selectAll('.tick text')
    .attr('fill', '#333')
    .style('font-size', '9px')
    .style('font-family', "'Liberation Sans', Arial, sans-serif")

  let maxW = 0
  axis.selectAll('.tick text').each(function () {
    maxW = Math.max(maxW, this.getComputedTextLength())
  })

  g.append('text')
    .attr('x', LEFT - 4 - maxW)
    .attr('y', PANEL_H / 2)
    .attr('dy', '0.35em')
    .attr('text-anchor', 'end')
    .attr('fill', '#333')
    .style('font-size', '10px')
    .text(p.label)
}

function drawXAxis () {
  const yPos = TOP + (panels.length - 1) * PITCH + PANEL_H
  const axis = svg.append('g')
    .attr('transform', `translate(0,${yPos})`)
    .call(d3.axisBottom(x)
      .tickValues(xTicks)
      .tickFormat(d3.format('d'))
      .tickSizeInner(-12)
      .tickSizeOuter(0)
      .tickPadding(3))
  axis.select('.domain').attr('stroke', '#8a8a8a')
  axis.selectAll('.tick line').attr('stroke', '#555')
  axis.selectAll('.tick text')
    .attr('fill', '#333')
    .style('font-size', '9px')
    .style('font-family', "'Liberation Sans', Arial, sans-serif")

  svg.append('text')
    .attr('x', (LEFT + RIGHT) / 2)
    .attr('y', 627)
    .attr('text-anchor', 'middle')
    .attr('fill', '#333')
    .style('font-size', '10px')
    .text('Sample Number')
}

function drawDecor () {
  svg.append('text')
    .attr('x', 712)
    .attr('y', 38.5)
    .attr('text-anchor', 'middle')
    .attr('fill', '#222')
    .style('font-size', '10px')
    .style('font-weight', 'bold')
    .text('Run 440 Run Data')

  const legend = svg.append('g')
  legend.append('rect')
    .attr('x', 86.5).attr('y', 10.5)
    .attr('width', 247).attr('height', 14)
    .attr('fill', '#fff')
    .attr('stroke', '#a0a0a0')
  const items = [
    { name: 'rundataMeas', color: '#000', sx: 96.5, tx: 111.5 },
    { name: 'lowerRunLim', color: '#ff0000', sx: 178.5, tx: 194 },
    { name: 'upperRunLim', color: '#ff0000', sx: 261, tx: 276.5 }
  ]
  items.forEach(it => {
    legend.append('rect')
      .attr('x', it.sx).attr('y', 15)
      .attr('width', 5).attr('height', 5)
      .attr('fill', it.color)
    legend.append('text')
      .attr('x', it.tx).attr('y', 17.5)
      .attr('dy', '0.35em')
      .attr('fill', '#333')
      .style('font-size', '10px')
      .text(it.name)
  })
}
</script>
</body>
</html>
